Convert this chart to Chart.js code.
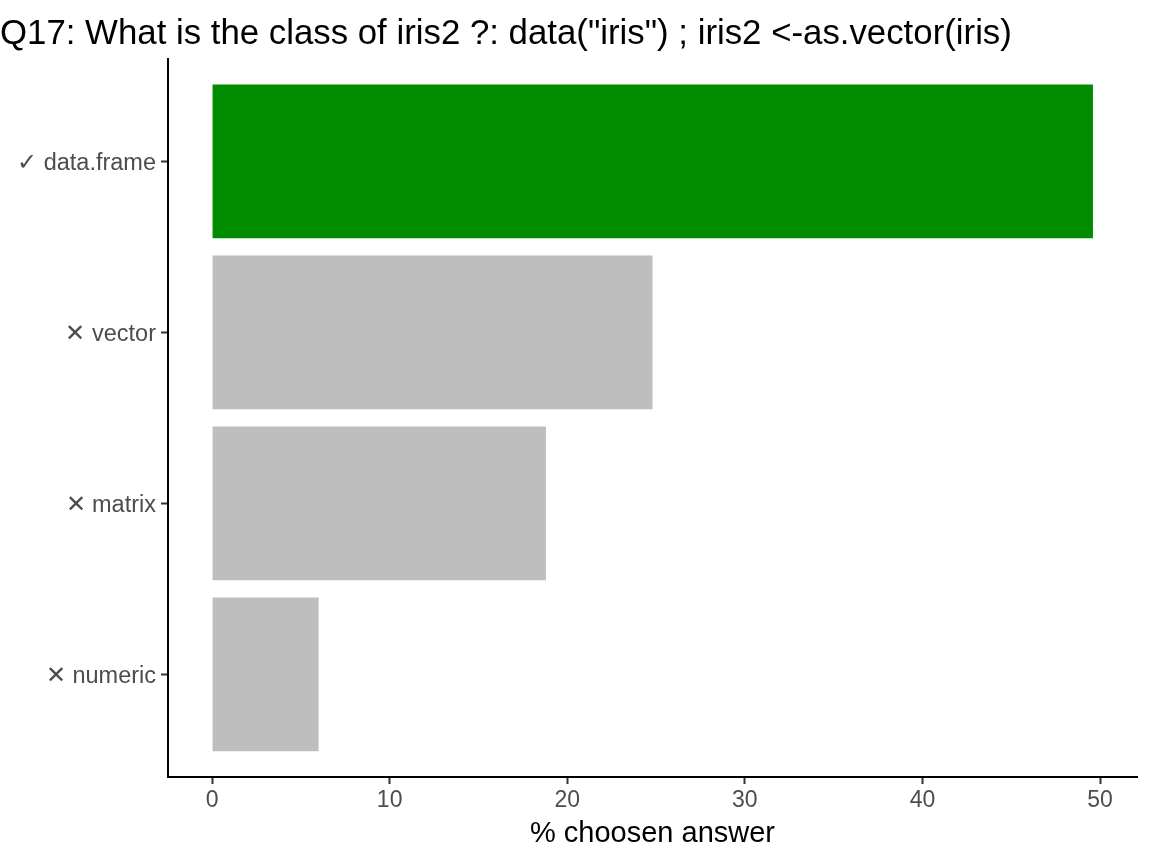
<!DOCTYPE html>
<html>
<head>
<meta charset="utf-8">
<script src="https://cdn.jsdelivr.net/npm/chart.js@4"></script>
<style>
	html, body { margin: 0; padding: 0; background: #fff; }
	#wrap { width: 1152px; height: 864px; }
</style>
</head>
<body>
<div id="wrap"><canvas id="chart"></canvas></div>
<script>
const answers = ["✓ data.frame", "✕ vector", "✕ matrix", "✕ numeric"]
const percents = [49.6, 24.8, 18.8, 6.0]
const barColors = ["#008B00", "#BEBEBE", "#BEBEBE", "#BEBEBE"]
const xTicks = [0, 10, 20, 30, 40, 50]

const FONT = "'Liberation Sans', Arial, Helvetica, sans-serif"
const maxVal = Math.max(...percents)

new Chart(document.getElementById('chart'), {
	type: 'bar',
	data: {
		datasets: [{
			data: percents.map((p, i) => ({ x: p, y: i + 1 })),
			backgroundColor: barColors,
			borderWidth: 0,
			barPercentage: 0.9,
			categoryPercentage: 1
		}]
	},
	options: {
		indexAxis: 'y',
		responsive: true,
		maintainAspectRatio: false,
		animation: false,
		layout: { padding: { left: 0, right: 15, top: 0, bottom: 0 } },
		plugins: {
			legend: { display: false },
			tooltip: { enabled: false },
			title: {
				display: true,
				text: 'Q17: What is the class of iris2 ?: data("iris") ; iris2 <-as.vector(iris)',
				align: 'start',
				color: '#000',
				font: { family: FONT, size: 34.8, weight: 'normal', lineHeight: 1.2 },
				padding: { top: 14, bottom: 3 }
			}
		},
		scales: {
			x: {
				type: 'linear',
				min: -maxVal * 0.05,
				max: maxVal * 1.05,
				afterBuildTicks: (scale) => { scale.ticks = xTicks.map((v) => ({ value: v })) },
				afterFit: (scale) => { scale.height = 87 },
				grid: { display: true, drawOnChartArea: false, drawTicks: true, tickLength: 7, tickColor: '#333', tickWidth: 2 },
				border: { display: true, color: '#000', width: 2 },
				ticks: { color: '#4d4d4d', font: { family: FONT, size: 23 }, padding: 3, maxRotation: 0 },
				title: {
					display: true,
					text: '% choosen answer',
					color: '#000',
					font: { family: FONT, size: 29 },
					padding: { top: 4, bottom: 13 }
				}
			},
			y: {
				type: 'linear',
				min: 0.4,
				max: 4.6,
				reverse: true,
				offset: false,
				afterBuildTicks: (scale) => { scale.ticks = answers.map((a, i) => ({ value: i + 1 })) },
				afterFit: (scale) => { scale.width = 168 },
				grid: { display: true, offset: false, drawOnChartArea: false, drawTicks: true, tickLength: 7, tickColor: '#333', tickWidth: 2 },
				border: { display: true, color: '#000', width: 2 },
				ticks: {
					color: '#4d4d4d',
					font: { family: FONT, size: 23.5 },
					padding: 5,
					labelOffset: 2,
					callback: (value) => answers[value - 1]
				}
			}
		}
	}
});
</script>
</body>
</html>
